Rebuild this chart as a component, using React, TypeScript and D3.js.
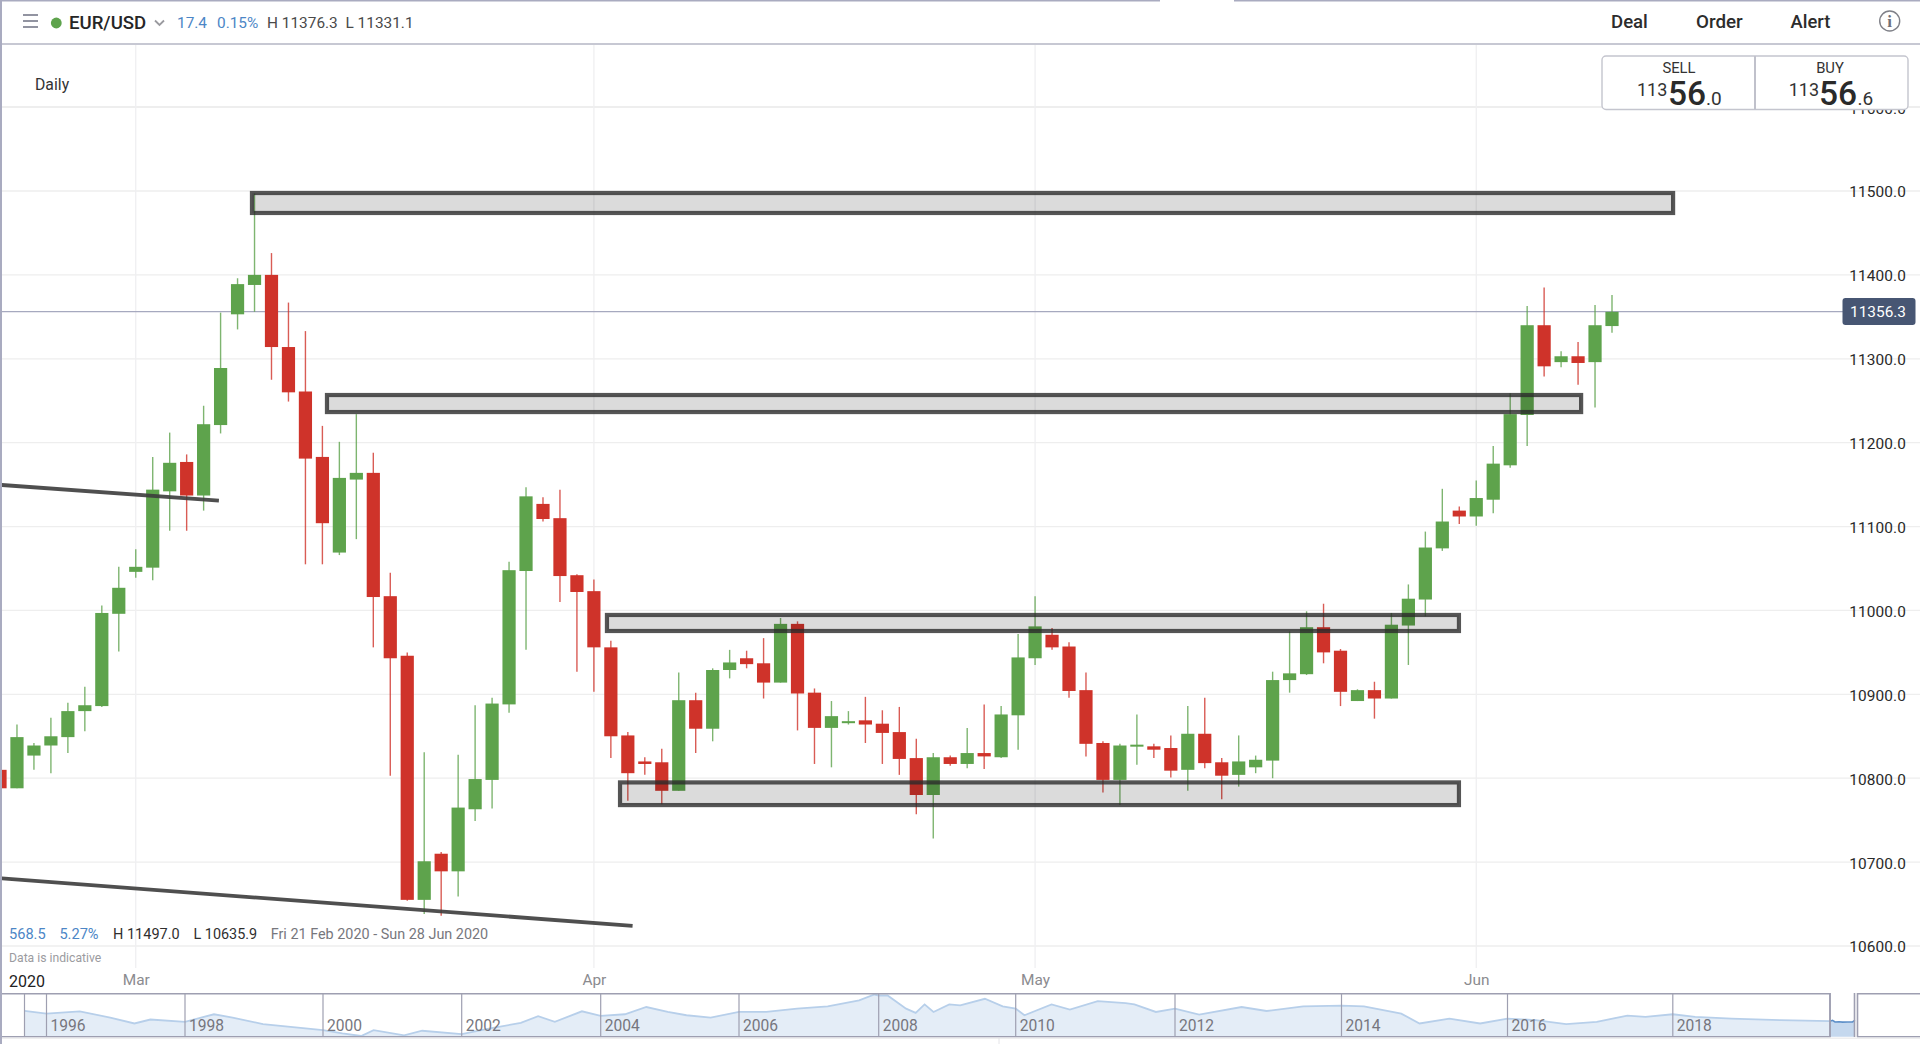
import React, { useEffect, useRef } from "react";
import * as d3 from "d3";

const FONT = "Roboto, sans-serif";

// daily candles, 21 Feb - 28 Jun 2020 (EUR/USD x 10000)
const opens = [10810,10788,10827,10839,10849,10880,10886,10996,11046,11051,11142,11177,11137,11221,11353,11388,11400,11314,11261,11183,11069,11156,11164,11017,10946,10655,10710,10689,10763,10798,10888,11047,11127,11110,11042,11023,10956,10851,10820,10819,10785,10893,10859,10929,10943,10937,10914,10984,10902,10860,10866,10869,10865,10855,10824,10780,10825,10817,10830,10825,10875,10943,10971,10957,10905,10842,10798,10838,10838,10836,10810,10853,10819,10804,10813,10821,10917,10924,10980,10952,10892,10905,10895,10982,11013,11074,11119,11112,11132,11173,11233,11340,11296,11303,11296,11339];
const highs = [10812,10864,10842,10872,10890,10909,11006,11052,11073,11183,11212,11186,11244,11355,11396,11497,11426,11367,11333,11220,11201,11234,11188,11045,10950,10831,10712,10828,10887,10896,11058,11147,11135,11144,11043,11037,10964,10855,10825,10835,10926,10902,10931,10953,10952,10967,10991,10987,10907,10892,10880,10897,10881,10885,10847,10830,10827,10860,10888,10886,10972,11017,10979,10962,10926,10844,10841,10876,10841,10851,10886,10896,10824,10851,10827,10927,10975,10999,11008,10954,10906,10915,10997,11031,11094,11145,11124,11155,11196,11259,11363,11385,11309,11320,11364,11376];
const lows = [10786,10788,10810,10806,10830,10856,10885,10951,11039,11036,11095,11095,11119,11211,11335,11356,11275,11249,11055,11055,11066,11085,10956,10803,10654,10638,10636,10659,10749,10764,10878,10953,11106,11010,10927,10903,10824,10773,10804,10769,10785,10830,10844,10919,10931,10895,10914,10857,10817,10813,10864,10842,10817,10804,10757,10728,10815,10812,10811,10824,10834,10935,10953,10896,10826,10783,10768,10816,10824,10801,10785,10812,10775,10790,10806,10800,10902,10923,10937,10886,10892,10871,10895,10935,10993,11071,11103,11101,11116,11170,11196,11279,11290,11269,11242,11331];
const closes = [10788,10849,10839,10850,10880,10887,10997,11027,11052,11144,11176,11137,11222,11289,11389,11400,11314,11260,11181,11104,11158,11164,11016,10943,10655,10701,10689,10765,10799,10889,11048,11136,11109,11041,11022,10956,10850,10806,10817,10785,10893,10859,10929,10938,10936,10914,10984,10901,10860,10874,10868,10864,10854,10823,10780,10825,10817,10830,10826,10876,10944,10981,10956,10904,10841,10798,10839,10840,10834,10809,10853,10818,10803,10820,10822,10917,10925,10980,10950,10903,10905,10895,10983,11014,11075,11106,11112,11134,11175,11234,11340,11291,11303,11295,11340,11356];

const priceTicks = [10600,10700,10800,10900,11000,11100,11200,11300,11400,11500,11600];
const lastPrice = 11356.3;

const monthLabels = ["Mar","Apr","May","Jun"];
const monthIndex = [8,35,61,87];

// hand-drawn support/resistance zones: price band + candle index span
const zoneHigh = [11497.6,11256.8,10994.6,10795];
const zoneLow = [11473.8,11236.5,10975.5,10768];
const zoneStart = [14.85,19.27,35.77,36.54];
const zoneEnd = [98.6,93.18,85.98,85.98];

// hand-drawn trend lines: [start index, start price, end index, end price]
const trendUpper = [[-0.2,11150],[12.9,11130.8]];
const trendLower = [[-0.2,10681],[37.28,10624]];

// navigator
const navYears = [1996,1998,2000,2002,2004,2006,2008,2010,2012,2014,2016,2018];
const navDates = [1995.68,1996,1996.48,1996.92,1997.27,1997.5,1998,1998.42,1998.69,1999.13,2000,2000.28,2000.55,2000.73,2001.17,2001.43,2002,2002.41,2002.85,2003.1,2003.34,2003.73,2004,2004.35,2004.66,2004.97,2005.24,2005.59,2006,2006.39,2006.83,2007.27,2007.72,2007.94,2008,2008.13,2008.4,2008.54,2008.67,2008.8,2009.03,2009.19,2009.55,2009.81,2010,2010.11,2010.45,2010.68,2011.03,2011.38,2011.49,2011.76,2012,2012.29,2012.8,2013.1,2013.54,2014,2014.27,2014.72,2014.94,2015.3,2015.67,2016,2016.34,2016.71,2017.08,2017.45,2017.67,2018,2018.27,2018.71,2019.3,2019.9];
const navRates = [1.29,1.242,1.284,1.17,1.062,1.134,1.092,1.23,1.17,1.05,0.942,0.882,0.834,0.942,0.846,0.93,0.87,0.972,1.074,1.194,1.092,1.284,1.2,1.23,1.362,1.272,1.212,1.17,1.272,1.272,1.332,1.374,1.482,1.59,1.572,1.572,1.332,1.254,1.41,1.272,1.41,1.392,1.512,1.374,1.332,1.212,1.41,1.314,1.47,1.434,1.41,1.272,1.332,1.224,1.362,1.29,1.374,1.386,1.374,1.242,1.062,1.152,1.062,1.152,1.122,1.05,1.092,1.206,1.182,1.23,1.182,1.152,1.122,1.104];
const windowDates = [2019.9,2019.95,2020,2020.08,2020.15,2020.25,2020.35,2020.4];
const windowRates = [1.104,1.12,1.09,1.094,1.086,1.09,1.092,1.12];

const GREEN = "#5ea34c";
const RED = "#cf332a";
const FRAME = "#9e9fb1";

const App: React.FC = () => {
  const ref = useRef<SVGSVGElement>(null);

  useEffect(() => {
    const svg = d3.select(ref.current);
    svg.selectAll("*").remove();

    const x = d3.scaleLinear().domain([0, 95]).range([0, 1612]);
    const y = d3.scaleLinear().domain([10600, 11500]).range([946, 191]);

    const txt = (tx: number, ty: number, s: string, size: number, fill: string, anchor = "start", weight = 400) =>
      svg.append("text").attr("x", tx).attr("y", ty).text(s)
        .attr("font-size", size).attr("fill", fill).attr("text-anchor", anchor)
        .attr("font-weight", weight).attr("font-family", FONT);

    // grid
    svg.append("g").selectAll("line").data(priceTicks).join("line")
      .attr("x1", 2).attr("x2", 1920)
      .attr("y1", (d) => y(d)).attr("y2", (d) => y(d))
      .attr("stroke", "#eeeeee").attr("stroke-width", (d) => (d === 11600 ? 2 : 1.3));
    svg.append("g").selectAll("line").data(monthIndex).join("line")
      .attr("x1", (d) => x(d)).attr("x2", (d) => x(d))
      .attr("y1", 45).attr("y2", 968)
      .attr("stroke", "#efeff1").attr("stroke-width", 1.3);

    // last price line
    svg.append("line").attr("x1", 2).attr("x2", 1843)
      .attr("y1", y(lastPrice)).attr("y2", y(lastPrice))
      .attr("stroke", "#a6a9bf").attr("stroke-width", 1.2);

    // candles
    const candles = svg.append("g").selectAll("g").data(opens).join("g")
      .attr("clip-path", "url(#plot)");
    candles.append("line")
      .attr("x1", (_, i) => x(i)).attr("x2", (_, i) => x(i))
      .attr("y1", (_, i) => y(highs[i])).attr("y2", (_, i) => y(lows[i]))
      .attr("stroke", (d, i) => (closes[i] >= d ? GREEN : RED))
      .attr("stroke-width", 1.4).attr("stroke-opacity", 0.8);
    candles.append("rect")
      .attr("x", (_, i) => x(i) - 6.6).attr("width", 13.2)
      .attr("y", (d, i) => y(Math.max(d, closes[i])))
      .attr("height", (d, i) => Math.max(2, Math.abs(y(d) - y(closes[i]))))
      .attr("fill", (d, i) => (closes[i] >= d ? GREEN : RED));
    svg.append("clipPath").attr("id", "plot").append("rect")
      .attr("x", 2).attr("y", 44).attr("width", 1918).attr("height", 920);

    // zones
    svg.append("g").selectAll("rect").data(zoneHigh).join("rect")
      .attr("x", (_, i) => x(zoneStart[i]))
      .attr("width", (_, i) => x(zoneEnd[i]) - x(zoneStart[i]))
      .attr("y", (d) => y(d))
      .attr("height", (d, i) => y(zoneLow[i]) - y(d))
      .attr("fill", "#000").attr("fill-opacity", 0.14)
      .attr("stroke", "#2b2b2b").attr("stroke-opacity", 0.8).attr("stroke-width", 4.2);

    // trend lines
    const trend = d3.line<number[]>().x((d) => x(d[0])).y((d) => y(d[1]));
    [trendUpper, trendLower].forEach((t) => {
      svg.append("path").attr("d", trend(t)).attr("fill", "none")
        .attr("stroke", "#3c3c3c").attr("stroke-opacity", 0.9).attr("stroke-width", 3.8)
        .attr("clip-path", "url(#plot)");
    });

    // price axis
    const yAxis = d3.axisRight(y).tickValues(priceTicks).tickFormat(d3.format(".1f")).tickSize(0).tickPadding(0);
    const yG = svg.append("g").attr("transform", "translate(1906,1)").call(yAxis);
    yG.select(".domain").remove();
    yG.selectAll("text").attr("text-anchor", "end").attr("font-size", 15.4)
      .attr("font-family", FONT).attr("fill", "#2a2a2a").attr("letter-spacing", 0.1);

    // month axis
    const xAxis = d3.axisBottom(x).tickValues(monthIndex)
      .tickFormat((_, i) => monthLabels[i]).tickSize(0).tickPadding(0);
    const xG = svg.append("g").attr("transform", "translate(0,974)").call(xAxis);
    xG.select(".domain").remove();
    xG.selectAll("text").attr("font-size", 15.4).attr("font-family", FONT).attr("fill", "#8b8b8f");

    // last price tag
    svg.append("rect").attr("x", 1842.5).attr("y", y(lastPrice) - 13.5).attr("width", 73).attr("height", 27)
      .attr("rx", 3).attr("fill", "#475673");
    txt(1906, y(lastPrice) + 5.5, String(lastPrice), 15.4, "#fff", "end");

    // frame + header
    svg.append("path").attr("d", "M1 0V1044").attr("stroke", "#a9abc0").attr("stroke-width", 2);
    svg.append("path").attr("d", "M0 .7H1160M1234 .7H1920").attr("stroke", "#a9abc0").attr("stroke-width", 1.5);
    svg.append("line").attr("x1", 2).attr("x2", 1920).attr("y1", 44).attr("y2", 44)
      .attr("stroke", "#b4b6c4").attr("stroke-width", 1.4);

    svg.append("path").attr("d", "M23 15H38M23 21H38M23 27H38").attr("stroke", "#6f7182").attr("stroke-width", 1.4);
    svg.append("circle").attr("cx", 56.3).attr("cy", 23).attr("r", 5.4).attr("fill", GREEN);
    txt(69, 29, "EUR/USD", 18.6, "#262626", "start", 500);
    svg.append("path").attr("d", "M155 20.5l4.5 4.5l4.5-4.5").attr("fill", "none").attr("stroke", "#9a9a9f").attr("stroke-width", 1.8);
    txt(177, 27.5, "17.4", 15.4, "#4c86c6");
    txt(217, 27.5, "0.15%", 15.4, "#4c86c6");
    txt(267, 27.5, "H 11376.3", 15.4, "#4a4a4a");
    txt(345.5, 27.5, "L 11331.1", 15.4, "#4a4a4a");
    txt(35, 90, "Daily", 15.8, "#333");

    txt(1611, 27.5, "Deal", 18.6, "#2c2c2c", "start", 500);
    txt(1696, 27.5, "Order", 18.8, "#2c2c2c", "start", 500);
    txt(1790.5, 27.5, "Alert", 18.4, "#2c2c2c", "start", 500);
    svg.append("circle").attr("cx", 1889.7).attr("cy", 21).attr("r", 10).attr("fill", "none")
      .attr("stroke", "#7f8088").attr("stroke-width", 1.4);
    svg.append("text").attr("x", 1889.7).attr("y", 27).text("i").attr("text-anchor", "middle")
      .attr("font-size", 17).attr("font-family", "'Liberation Serif', serif").attr("font-weight", 700).attr("fill", "#6f7078");

    // deal box
    svg.append("rect").attr("x", 1602).attr("y", 56).attr("width", 306).attr("height", 53.5).attr("rx", 4)
      .attr("fill", "#fff").attr("stroke", "#c4c5ce").attr("stroke-width", 1.4);
    svg.append("line").attr("x1", 1755).attr("x2", 1755).attr("y1", 56).attr("y2", 109.5)
      .attr("stroke", "#c0c1cb").attr("stroke-width", 2);
    txt(1679, 73, "SELL", 14.8, "#333", "middle");
    txt(1830, 73, "BUY", 14.8, "#333", "middle");
    [[1637, 1668, 1706, "0"], [1788.7, 1819, 1857.5, "6"]].forEach(([a, b, c, dec]) => {
      txt(a as number, 96, "113", 18, "#333");
      txt(b as number, 105, "56", 33.5, "#2a2a2a", "start", 500);
      txt(c as number, 105, "." + dec, 19, "#333");
    });

    // range stats
    txt(9, 938.5, "568.5", 14.6, "#4c86c6");
    txt(59.4, 938.5, "5.27%", 14.6, "#4c86c6");
    txt(113, 938.5, "H 11497.0", 14.5, "#2f2f2f");
    txt(193.5, 938.5, "L 10635.9", 14.4, "#2f2f2f");
    txt(270.7, 938.5, "Fri 21 Feb 2020 - Sun 28 Jun 2020", 14.4, "#77777d");
    txt(9, 962, "Data is indicative", 12.2, "#9b9ba0");
    txt(9, 987, "2020", 16, "#222");

    // navigator
    const navX = d3.scaleLinear()
      .domain([1995.68, ...navYears, 2019.9, 2020.4])
      .range([24.5, 46.5, 185, 323, 461.7, 600.7, 739, 878.7, 1015.7, 1175, 1341.5, 1507.5, 1672.8, 1830, 1855]);
    const navY = d3.scaleLinear().domain([0.834, 1.59]).range([1036, 994.5]);
    const navArea = d3.area<number>().x((d) => navX(d)).y0(1036.7).y1((_, i) => navY(navRates[i]));
    const navLine = d3.line<number>().x((d) => navX(d)).y((_, i) => navY(navRates[i]));
    svg.append("path").attr("d", navArea(navDates)).attr("fill", "#e4edf7");
    svg.append("path").attr("d", navLine(navDates)).attr("fill", "none").attr("stroke", "#b7cfea").attr("stroke-width", 1.8);
    const winArea = d3.area<number>().x((d) => navX(d)).y0(1036.7).y1((_, i) => navY(windowRates[i]));
    const winLine = d3.line<number>().x((d) => navX(d)).y((_, i) => navY(windowRates[i]));
    svg.append("path").attr("d", winArea(windowDates)).attr("fill", "#c5d8ee");
    svg.append("path").attr("d", winLine(windowDates)).attr("fill", "none").attr("stroke", "#5d8fc8").attr("stroke-width", 1.6);

    svg.append("path")
      .attr("d", "M2 993.7H1830V1036.7H2M1857 1036.7H1920M1857 993.7H1920")
      .attr("fill", "none").attr("stroke", FRAME).attr("stroke-width", 1.5);
    svg.append("g").selectAll("line").data(navYears).join("line")
      .attr("x1", (d) => navX(d)).attr("x2", (d) => navX(d))
      .attr("y1", 993.7).attr("y2", 1036.7)
      .attr("stroke", FRAME).attr("stroke-width", 1.2);
    svg.append("path").attr("d", "M24.5 993.7V1036.7").attr("stroke", FRAME).attr("stroke-width", 1.2);
    svg.append("path").attr("d", "M1830 993V1037M1854.5 993V1037M1857.5 993V1037")
      .attr("stroke", FRAME).attr("stroke-width", 1.6);
    svg.append("g").selectAll("text").data(navYears).join("text")
      .attr("x", (d) => navX(d) + 4).attr("y", 1031).text((d) => d)
      .attr("font-size", 15.6).attr("font-family", FONT).attr("fill", "#76767e");

    svg.append("rect").attr("x", 2).attr("y", 1037.5).attr("width", 1918).attr("height", 1.5).attr("fill", "#eeeeef");
    svg.append("line").attr("x1", 999).attr("x2", 999).attr("y1", 1038).attr("y2", 1044)
      .attr("stroke", "#e4e4e8");
  }, []);

  return (
    <svg
      ref={ref}
      width={1920}
      height={1044}
      style={{ position: "absolute", left: 0, top: 0, background: "#fff" }}
    />
  );
};

export default App;
